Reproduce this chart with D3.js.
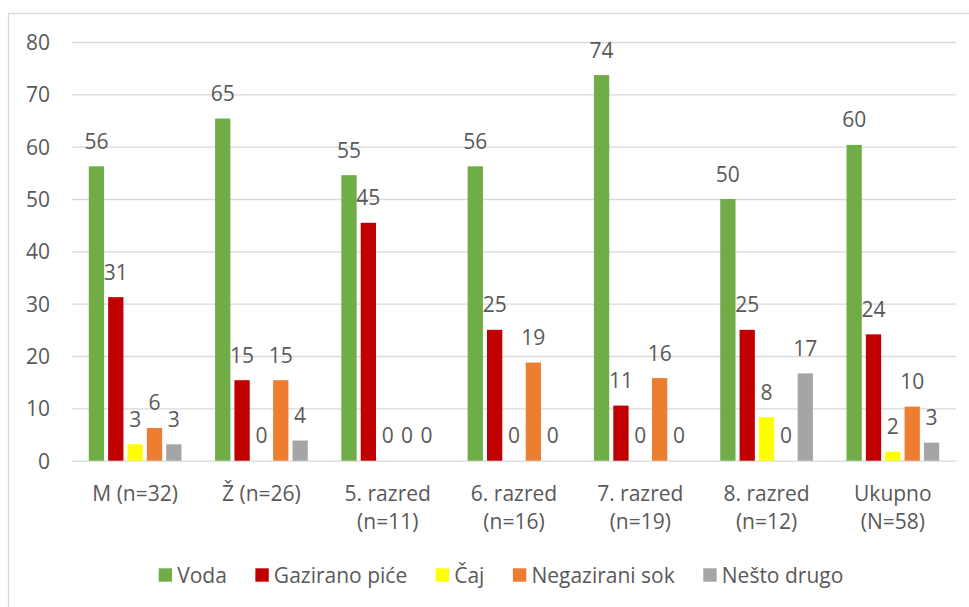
<!DOCTYPE html>
<html><head><meta charset="utf-8">
<script src="https://cdn.jsdelivr.net/npm/d3@7"></script>
<style>
html,body{margin:0;padding:0;background:#fff;}
svg{display:block;font-family:"Open Sans",sans-serif;}
</style></head>
<body>
<svg id="c" width="969" height="607"></svg>
<script>
const categories = ["M (n=32)", "Ž (n=26)", "5. razred\n(n=11)", "6. razred\n(n=16)", "7. razred\n(n=19)", "8. razred\n(n=12)", "Ukupno\n(N=58)"];
const seriesNames = ["Voda", "Gazirano piće", "Čaj", "Negazirani sok", "Nešto drugo"];
const seriesColors = ["#70AD47", "#C00000", "#FFFF00", "#ED7D31", "#A5A5A5"];
const voda = [56.25, 65.38, 54.55, 56.25, 73.68, 50.0, 60.34];
const gazirano = [31.25, 15.38, 45.45, 25.0, 10.53, 25.0, 24.14];
const caj = [3.13, 0, 0, 0, 0, 8.33, 1.72];
const negazirani = [6.25, 15.38, 0, 18.75, 15.79, 0, 10.34];
const nestoDrugo = [3.13, 3.85, 0, 0, 0, 16.67, 3.45];
const yTicks = [0, 10, 20, 30, 40, 50, 60, 70, 80];

(function () {
const seriesValues = [voda, gazirano, caj, negazirani, nestoDrugo];
const textColor = "#595959";
const fs = 21;

const svg = d3.select("#c");
svg.append("rect").attr("x", 8.5).attr("y", 13.5).attr("width", 1200).attr("height", 1200)
  .attr("fill", "none").attr("stroke", "#d9d9d9").attr("stroke-width", 1.3);

const pL = 72, pR = 956, pT = 42, pB = 460.7;
const x0 = d3.scaleBand().domain(categories).range([pL, pR]).padding(0);
const groupW = 92.7;
const x1 = d3.scaleBand().domain(seriesNames)
  .range([(x0.bandwidth() - groupW) / 2, (x0.bandwidth() + groupW) / 2])
  .paddingInner(0.21).paddingOuter(0);
const y = d3.scaleLinear().domain([0, 80]).range([pB, pT]);

const yAxis = d3.axisLeft(y).tickValues(yTicks).tickSize(-(pR - pL)).tickPadding(22).tickFormat(d3.format("d"));
const gy = svg.append("g").attr("transform", `translate(${pL},0)`).call(yAxis);
gy.select(".domain").remove();
gy.selectAll(".tick line").attr("stroke", "#d9d9d9").attr("stroke-width", 1.3);
gy.selectAll(".tick text").attr("fill", textColor).attr("font-size", fs)
  .attr("font-family", "Open Sans").attr("dy", "0.36em");

const groups = svg.append("g").selectAll("g").data(categories).join("g")
  .attr("transform", d => `translate(${x0(d)},0)`);
groups.each(function(cat, ci) {
  const g = d3.select(this);
  seriesNames.forEach((s, si) => {
    const v = seriesValues[si][ci];
    g.append("rect")
      .attr("x", x1(s)).attr("width", x1.bandwidth())
      .attr("y", y(v)).attr("height", y(0) - y(v))
      .attr("fill", seriesColors[si]);
  });
  seriesNames.forEach((s, si) => {
    const v = seriesValues[si][ci];
    g.append("text")
      .attr("x", x1(s) + x1.bandwidth() / 2)
      .attr("y", y(v) - 17.5)
      .attr("text-anchor", "middle")
      .attr("fill", textColor).attr("font-size", fs)
      .text(d3.format(".0f")(v));
  });
});

const xl = svg.append("g");
categories.forEach(c => {
  const lines = c.split("\n");
  const t = xl.append("text").attr("text-anchor", "middle").attr("fill", textColor).attr("font-size", fs);
  lines.forEach((ln, i) => {
    t.append("tspan").attr("x", x0(c) + x0.bandwidth() / 2).attr("y", 500.5 + i * 28.5).text(ln);
  });
});

const leg = svg.append("g");
let cx = 0;
seriesNames.forEach((s, i) => {
  const g = leg.append("g").attr("transform", `translate(${cx},0)`);
  g.append("rect").attr("x", 0).attr("y", -6.7).attr("width", 13.4).attr("height", 13.4).attr("fill", seriesColors[i]);
  const t = g.append("text").attr("x", 18.5).attr("y", 0).attr("dy", "0.36em")
    .attr("fill", textColor).attr("font-size", fs).text(s);
  const w = t.node().getComputedTextLength();
  cx += 18.5 + w + 28.5;
});
const totalW = cx - 28.5;
leg.attr("transform", `translate(${501 - totalW / 2},575)`);
})();
</script>
</body></html>
